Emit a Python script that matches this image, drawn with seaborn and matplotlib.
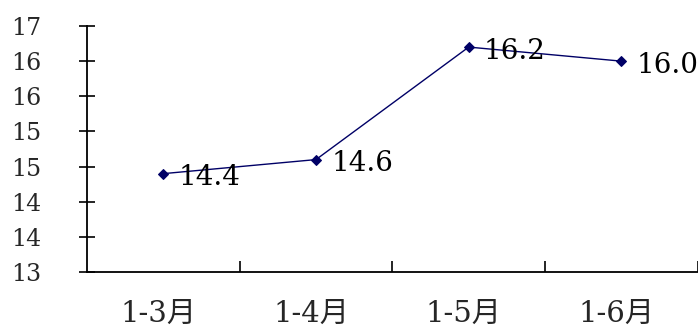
import numpy as np
import pandas as pd
import matplotlib
matplotlib.use("Agg")
import matplotlib.pyplot as plt
import matplotlib.transforms as mtransforms
import seaborn as sns

# data
periods = ["1-3月", "1-4月", "1-5月", "1-6月"]
values = [14.4, 14.6, 16.2, 16.0]
point_labels = ["14.4", "14.6", "16.2", "16.0"]
ytick_values = [13.0, 13.5, 14.0, 14.5, 15.0, 15.5, 16.0, 16.5]
ytick_labels = ["13", "14", "14", "15", "15", "16", "16", "17"]

df = pd.DataFrame({"period": periods, "value": values})

sns.set_style("white")
plt.rcParams['font.family'] = ['DejaVu Serif', 'Noto Sans CJK SC']

fig = plt.figure(figsize=(6.98, 3.29), dpi=100)
ax = fig.add_axes([0.1246, 0.173, 0.875, 0.748])

line_color = "#000066"
sns.lineplot(data=df, x="period", y="value", ax=ax, color=line_color,
             linewidth=1.0, marker="D", markersize=5,
             markeredgecolor=line_color, markerfacecolor=line_color)

for i, (v, lab) in enumerate(zip(values, point_labels)):
    ax.annotate(lab, (i, v), xytext=(11, -3), textcoords="offset points",
                ha="left", va="center", fontsize=20, color="black")

ax.set_xlim(-0.5, 3.5)
ax.set_ylim(13, 16.5)
ax.set_xlabel("")
ax.set_ylabel("")

# y axis
ax.set_yticks(ytick_values)
ax.set_yticklabels(ytick_labels, fontsize=17)
ax.tick_params(axis="y", direction="inout", length=12, width=1.2,
               color="black", pad=27, left=True)

# x axis: labels at categories, tick marks at boundaries
ax.set_xticks(range(len(periods)))
ax.set_xticklabels(periods, fontsize=21)
ax.tick_params(axis="x", which="major", length=0, pad=20)
shift = mtransforms.ScaledTranslation(-5 / 100, 0, fig.dpi_scale_trans)
for t in ax.get_xticklabels():
    t.set_transform(t.get_transform() + shift)
ax.set_xticks([0.5, 1.5, 2.5, 3.5], minor=True)
ax.tick_params(axis="x", which="minor", direction="in", length=8,
               width=1.2, color="black", bottom=True)

for s in ["top", "right"]:
    ax.spines[s].set_visible(False)
for s in ["left", "bottom"]:
    ax.spines[s].set_color("black")
    ax.spines[s].set_linewidth(1.3)

fig.savefig("out.png", dpi=100)
